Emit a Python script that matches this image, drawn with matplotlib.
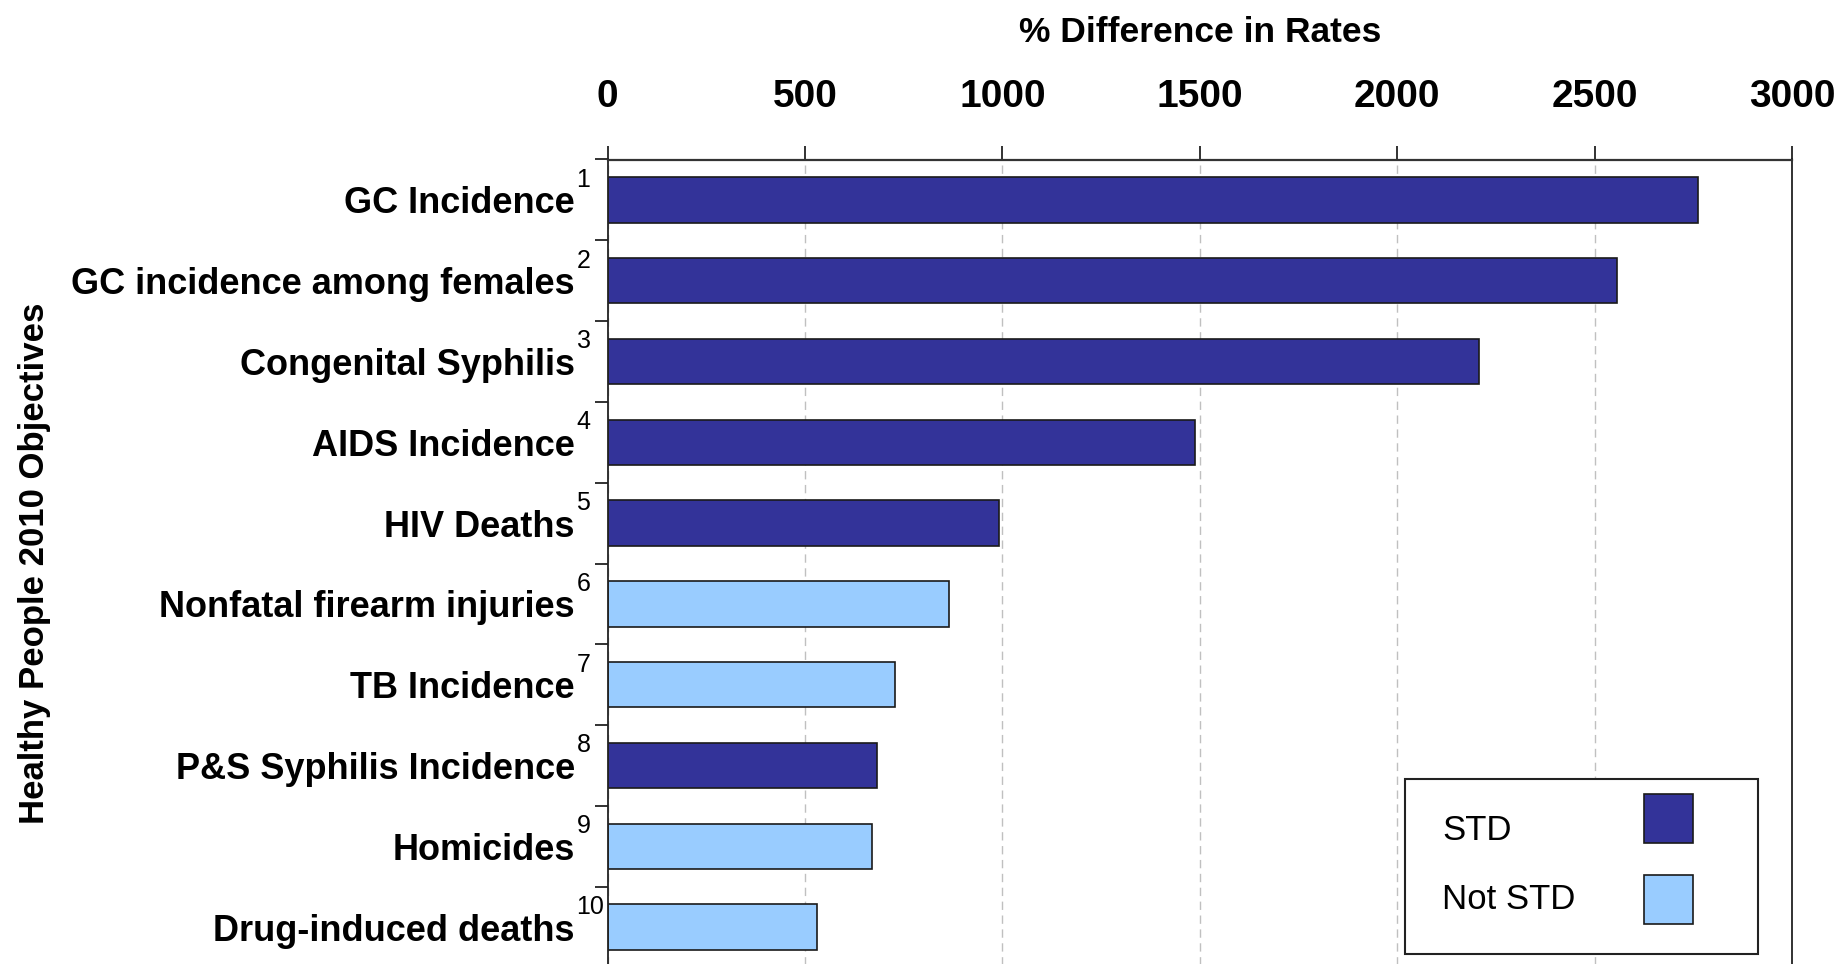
import matplotlib
matplotlib.use('Agg')
import numpy as np
import matplotlib.pyplot as plt
from matplotlib.patches import Rectangle
from matplotlib.transforms import offset_copy

plt.rcParams['font.family'] = ['Liberation Sans', 'DejaVu Sans']

# Healthy People 2010 objectives, % difference in rates
objectives = ['GC Incidence', 'GC incidence among females', 'Congenital Syphilis',
              'AIDS Incidence', 'HIV Deaths', 'Nonfatal firearm injuries',
              'TB Incidence', 'P&S Syphilis Incidence', 'Homicides', 'Drug-induced deaths']
footnotes = ['1', '2', '3', '4', '5', '6', '7', '8', '9', '10']
pct_diff = [2761, 2558, 2207, 1489, 992, 864, 727, 682, 670, 530]
is_std = [True, True, True, True, True, False, False, True, False, False]
x_ticks = [0, 500, 1000, 1500, 2000, 2500, 3000]

c_std = '#333399'
c_not = '#99ccff'

W, H = 1843, 964
fig = plt.figure(figsize=(W / 100, H / 100), dpi=100)

# axes box in pixels: left 607.5, right 1792, top 159.5, bottom 967.5
ax = fig.add_axes([607.5 / W, 1 - 967.5 / H, (1792 - 607.5) / W, (967.5 - 159.5) / H])

y = np.arange(len(objectives))
colors = [c_std if s else c_not for s in is_std]
ax.barh(y, pct_diff, height=0.56, color=colors, edgecolor='#1a1a1a', linewidth=1.2, zorder=2)

ax.set_xlim(0, 3000)
ax.set_ylim(len(objectives) - 0.5, -0.5)

# x axis on top
ax.xaxis.tick_top()
ax.set_xticks(x_ticks)
ax.set_xticklabels([str(t) for t in x_ticks], fontsize=28, fontweight='bold')
ax.tick_params(axis='x', length=10, width=1.3, pad=22, color='#222222')

# y axis: labels at bar centres, ticks at band edges
ax.set_yticks(y)
ax.set_yticklabels(objectives, fontsize=26, fontweight='bold')
ax.tick_params(axis='y', which='major', length=0, pad=23.5)
ax.set_yticks(np.arange(-0.5, len(objectives), 1), minor=True)
ax.tick_params(axis='y', which='minor', length=9.5, width=1.3, color='#222222')

ax.grid(axis='x', linestyle=(0, (6, 4)), color='#c0c0c0', linewidth=1)
ax.set_axisbelow(True)

ax.spines['top'].set_color('#333333')
ax.spines['top'].set_linewidth(1.6)
ax.spines['left'].set_color('#222222')
ax.spines['left'].set_linewidth(1.3)
ax.spines['right'].set_color('#222222')
ax.spines['right'].set_linewidth(1.3)
ax.spines['bottom'].set_visible(False)

# superscript footnote numbers after each label
trans = offset_copy(ax.get_yaxis_transform(), fig=fig, x=-31, y=0, units='dots')
for i, note in enumerate(footnotes):
    ax.text(0, i - 0.25, note, transform=trans, ha='left', va='center', fontsize=18)

# axis titles
fig.text(1200 / W, 1 - 33 / H, '% Difference in Rates', ha='center', va='center',
         fontsize=25.5, fontweight='bold')
fig.text(35 / W, 1 - 563 / H, 'Healthy People 2010 Objectives', ha='center', va='center',
         rotation=90, fontsize=25, fontweight='bold')

# legend box: text on the left, colour square on the right
fig.add_artist(Rectangle((1405 / W, 1 - 954 / H), (1758 - 1405) / W, (954 - 779) / H,
                         transform=fig.transFigure, facecolor='white',
                         edgecolor='#222222', linewidth=1.5, zorder=5))
for label, col, cy, ty in [('STD', c_std, 818.5, 830), ('Not STD', c_not, 899, 899.5)]:
    fig.add_artist(Rectangle((1644 / W, 1 - (cy + 24.5) / H), 49 / W, 49 / H,
                             transform=fig.transFigure, facecolor=col,
                             edgecolor='#1a1a1a', linewidth=1.2, zorder=6))
    fig.text(1442 / W, 1 - ty / H, label, ha='left', va='center', fontsize=25, zorder=6)

fig.savefig('out.png', dpi=100)
